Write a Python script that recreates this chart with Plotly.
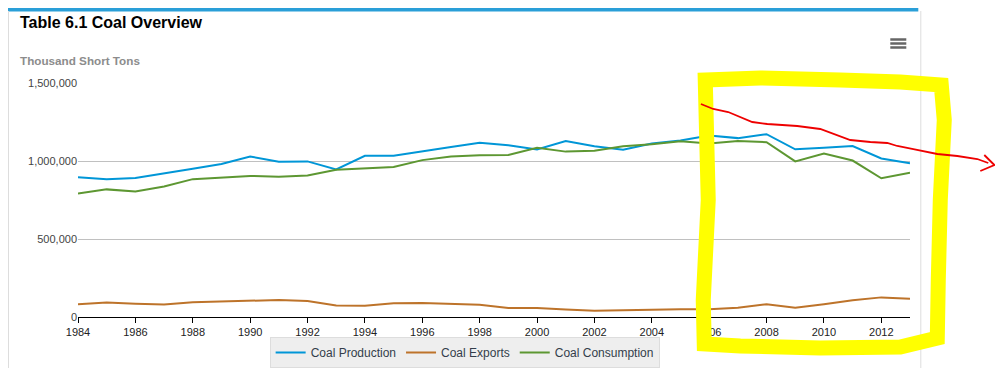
import plotly.graph_objects as go

# ---- data (thousand short tons) ----
years = list(range(1984, 2014))
coal_production = [895921, 883638, 890315, 918762, 950265, 980729, 1029076, 995984, 997545, 945424,
                   1033504, 1032974, 1063856, 1089932, 1117535, 1100431, 1073612, 1127689, 1094283, 1071753,
                   1112099, 1131498, 1162750, 1146635, 1171809, 1074923, 1084368, 1095628, 1016458, 984842]
coal_exports = [81482, 92680, 85518, 79607, 95023, 100815, 105804, 108969, 102516, 74519,
                71359, 88547, 90473, 83545, 78048, 58476, 58489, 48666, 39601, 43014,
                47998, 49942, 49647, 59163, 81519, 59097, 81716, 107259, 125746, 117659]
coal_consumption = [791307, 818049, 804229, 836864, 883638, 894683, 904498, 899235, 907655, 944081,
                    951762, 962104, 1005573, 1029535, 1037103, 1038647, 1084095, 1060146, 1066355, 1094861,
                    1107255, 1125978, 1112292, 1127998, 1120548, 997478, 1048514, 1002948, 889185, 924442]
x_ticks = list(range(1984, 2013, 2))
y_ticks = [0, 500000, 1000000, 1500000]

# page pixel geometry (the figure div sits 8px in from the page corner; keep it inside the window)
OFF = 8
W, H = 1003 - 2 * OFF, 376 - 2 * OFF
L, R, T, B = 78 - OFF, 909.7 - OFF, 83 - OFF, 317 - OFF

fig = go.Figure()
series = [("Coal Production", coal_production, "#0096d7"),
          ("Coal Exports", coal_exports, "#bd732a"),
          ("Coal Consumption", coal_consumption, "#5d9732")]
for name, vals, col in series:
    fig.add_trace(go.Scatter(x=years, y=vals, name=name, mode="lines",
                             line=dict(color=col, width=2)))

def px(x):
    return (x - OFF - L) / (R - L)

def py(y):
    return (B - (y - OFF)) / (B - T)

def path(points, close=False):
    s = "M " + " L ".join(f"{px(a):.4f},{py(b):.4f}" for a, b in points)
    return s + (" Z" if close else "")

shapes = []
# container decorations
shapes.append(dict(type="rect", xref="paper", yref="paper", x0=px(8), x1=px(918), y0=py(11.5), y1=py(8),
                   fillcolor="#2a9fd8", line=dict(width=0), layer="above"))
shapes.append(dict(type="line", xref="paper", yref="paper", x0=px(8.5), x1=px(8.5), y0=py(11), y1=py(368),
                   line=dict(color="#dddddd", width=1)))
shapes.append(dict(type="line", xref="paper", yref="paper", x0=px(920.5), x1=px(920.5), y0=py(11), y1=py(368),
                   line=dict(color="#dddddd", width=1)))
# hamburger menu icon
for yy in (39.5, 43.5, 47.5):
    shapes.append(dict(type="line", xref="paper", yref="paper", x0=px(890), x1=px(906), y0=py(yy), y1=py(yy),
                       line=dict(color="#666666", width=2.5)))
# hand-drawn yellow highlight
yellow_pts = [(705, 80), (760, 78), (840, 80), (900, 82), (941, 85), (944, 120), (940, 200), (938, 280),
              (937, 338), (900, 347), (820, 348), (740, 346), (704, 344), (703, 300), (708, 200), (706, 120)]
shapes.append(dict(type="path", xref="paper", yref="paper", path=path(yellow_pts, close=True),
                   line=dict(color="#ffff00", width=15), layer="above"))
# hand-drawn red trend line with arrow
red_pts = [(700.7, 104), (713, 109), (728, 112), (752, 122), (767, 124), (797, 126), (820, 129), (850, 140),
           (870, 142), (887, 143), (897, 146), (913, 149), (937, 154), (957, 156), (977, 159), (988, 163)]
shapes.append(dict(type="path", xref="paper", yref="paper", path=path(red_pts),
                   line=dict(color="#ee0000", width=1.8), layer="above"))
shapes.append(dict(type="path", xref="paper", yref="paper",
                   path=path([(984, 155), (994, 165), (980, 171)]),
                   line=dict(color="#ee0000", width=1.8), layer="above"))

annotations = [
    dict(text="<b>Table 6.1 Coal Overview</b>", xref="paper", yref="paper", x=px(18), y=py(22.5),
         xanchor="left", yanchor="middle", showarrow=False,
         font=dict(family="Liberation Sans, Arial", size=16, color="#000000")),
    dict(text="<b>Thousand Short Tons</b>", xref="paper", yref="paper", x=px(18), y=py(61),
         xanchor="left", yanchor="middle", showarrow=False,
         font=dict(family="Liberation Sans, Arial", size=11.7, color="#8c8c8c")),
]

fig.update_layout(
    width=W, height=H,
    margin=dict(l=L, r=W - R, t=T, b=H - B, pad=0, autoexpand=False),
    paper_bgcolor="#ffffff", plot_bgcolor="#ffffff",
    font=dict(family="Liberation Sans, Arial", size=11, color="#444444"),
    showlegend=True,
    legend=dict(orientation="h", x=px(464.5), xanchor="center", y=py(337), yanchor="top",
                bgcolor="#eeeeee", bordercolor="#dddddd", borderwidth=1,
                font=dict(size=12, color="#333d4a"), itemwidth=30),
    shapes=shapes, annotations=annotations,
    xaxis=dict(range=[1984, 2013], tickvals=x_ticks, ticktext=[str(v) for v in x_ticks],
               showgrid=False, zeroline=False, showline=True, linecolor="#000000", linewidth=1,
               ticks="outside", ticklen=5, tickcolor="#000000", tickangle=0,
               tickfont=dict(size=11, color="#222222")),
    yaxis=dict(range=[0, 1500000], tickvals=y_ticks, tickformat=",", showgrid=True,
               gridcolor="#c0c0c0", gridwidth=1, zeroline=False, showline=False,
               ticks="", tickfont=dict(size=11, color="#444444")),
)

fig.write_html("out.html")
